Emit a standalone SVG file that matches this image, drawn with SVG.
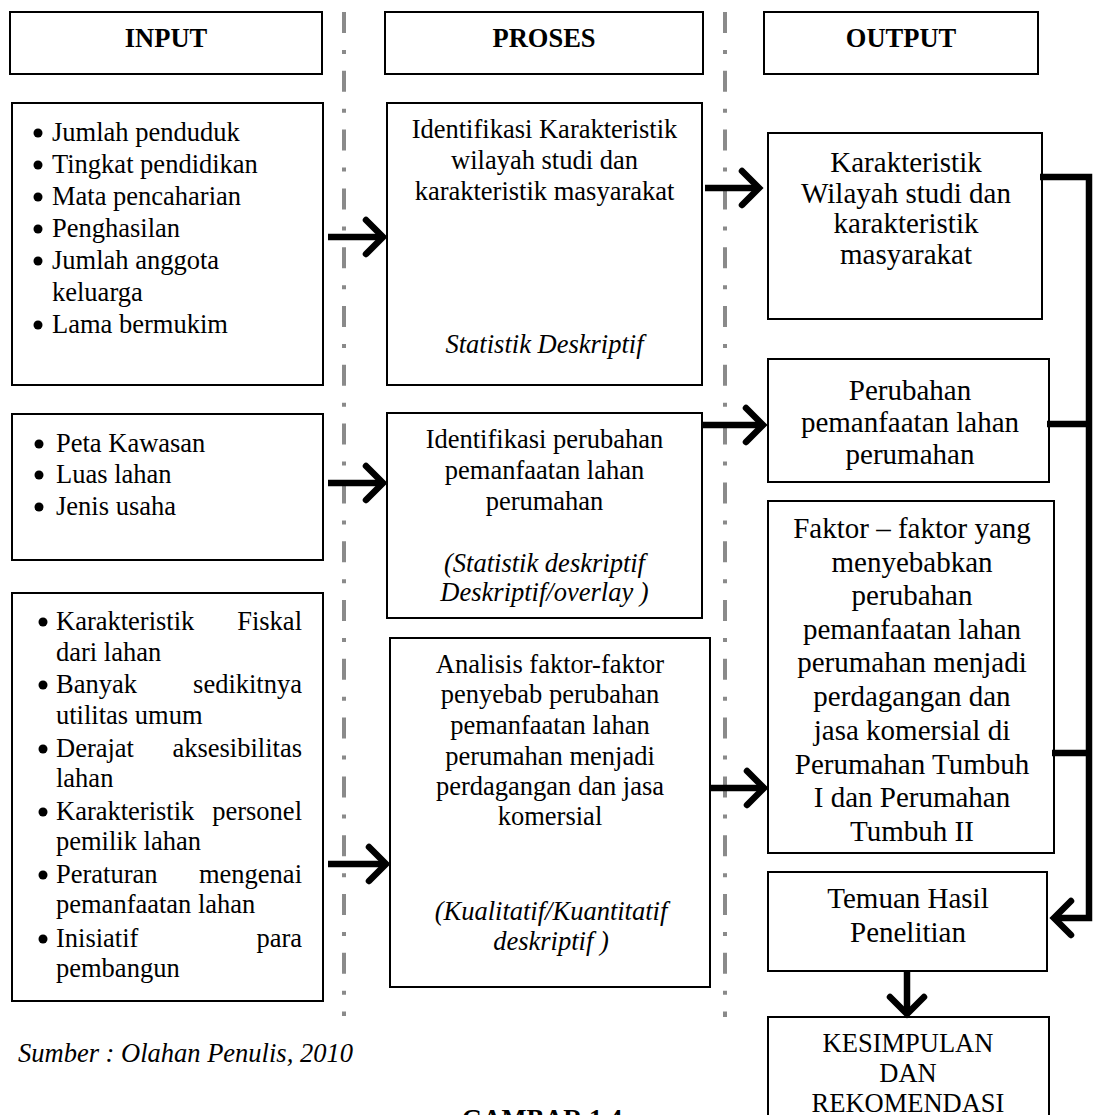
<svg xmlns="http://www.w3.org/2000/svg" width="1093" height="1115" viewBox="0 0 1093 1115">
<style>
.t{font-family:"Liberation Serif","Times New Roman",serif;font-size:26.5px;fill:#000}
.c{text-anchor:middle}
.e{text-anchor:end}
.i{font-style:italic}
.b{font-weight:bold}
.o{font-size:29px}
.box{fill:#fff;stroke:#000;stroke-width:2}
.div{stroke:#8a8a8a;stroke-width:4;stroke-dasharray:21 17 4 16.8;fill:none}
.conn{stroke:#000;stroke-width:6.5;fill:none;stroke-linejoin:miter}
.arr{marker-end:url(#chev)}
</style>
<defs>
<marker id="chev" markerUnits="userSpaceOnUse" markerWidth="60" markerHeight="60" viewBox="-30 -30 60 60" refX="0" refY="0" orient="auto" overflow="visible">
<path d="M-17,-17 L0,0 L-17,17" fill="none" stroke="#000" stroke-width="6.5" stroke-linecap="round" stroke-linejoin="miter"/>
</marker>
</defs>
<rect width="1093" height="1115" fill="#fff"/>
<g id="dividers">
<line class="div" x1="344" y1="12" x2="344" y2="1016"/>
<line class="div" x1="725" y1="12" x2="725" y2="1017"/>
</g>
<g id="hdr-input"><rect class="box" x="10" y="12" width="312" height="62"/><text class="t b c" x="166" y="47">INPUT</text></g>
<g id="hdr-proses"><rect class="box" x="385" y="12" width="318" height="62"/><text class="t b c" x="544" y="47">PROSES</text></g>
<g id="hdr-output"><rect class="box" x="764" y="12" width="274" height="62"/><text class="t b c" x="901" y="47">OUTPUT</text></g>

<g id="input1">
<rect class="box" x="12" y="103" width="311" height="282"/>
<circle cx="38" cy="133" r="4.5"/><text class="t" x="52" y="141">Jumlah penduduk</text>
<circle cx="38" cy="165" r="4.5"/><text class="t" x="52" y="173">Tingkat pendidikan</text>
<circle cx="38" cy="197" r="4.5"/><text class="t" x="52" y="205">Mata pencaharian</text>
<circle cx="38" cy="229" r="4.5"/><text class="t" x="52" y="237">Penghasilan</text>
<circle cx="38" cy="261" r="4.5"/><text class="t" x="52" y="269">Jumlah anggota</text>
<text class="t" x="52" y="301">keluarga</text>
<circle cx="38" cy="325" r="4.5"/><text class="t" x="52" y="333">Lama bermukim</text>
</g>

<g id="input2">
<rect class="box" x="12" y="414" width="311" height="146"/>
<circle cx="39" cy="444" r="4.5"/><text class="t" x="56" y="452">Peta Kawasan</text>
<circle cx="39" cy="475" r="4.5"/><text class="t" x="56" y="483">Luas lahan</text>
<circle cx="39" cy="507" r="4.5"/><text class="t" x="56" y="515">Jenis usaha</text>
</g>

<g id="input3">
<rect class="box" x="12" y="593" width="311" height="408"/>
<circle cx="43" cy="622" r="4.5"/><text class="t" x="56" y="630">Karakteristik</text><text class="t e" x="302" y="630">Fiskal</text>
<text class="t" x="56" y="661">dari lahan</text>
<circle cx="43" cy="685" r="4.5"/><text class="t" x="56" y="693">Banyak</text><text class="t e" x="302" y="693">sedikitnya</text>
<text class="t" x="56" y="724">utilitas umum</text>
<circle cx="43" cy="749" r="4.5"/><text class="t" x="56" y="757">Derajat</text><text class="t e" x="302" y="757">aksesibilitas</text>
<text class="t" x="56" y="787">lahan</text>
<circle cx="43" cy="812" r="4.5"/><text class="t" x="56" y="820">Karakteristik</text><text class="t e" x="302" y="820">personel</text>
<text class="t" x="56" y="850">pemilik lahan</text>
<circle cx="43" cy="875" r="4.5"/><text class="t" x="56" y="883">Peraturan</text><text class="t e" x="302" y="883">mengenai</text>
<text class="t" x="56" y="913">pemanfaatan lahan</text>
<circle cx="43" cy="939" r="4.5"/><text class="t" x="56" y="947">Inisiatif</text><text class="t e" x="302" y="947">para</text>
<text class="t" x="56" y="977">pembangun</text>
</g>

<g id="proses1">
<rect class="box" x="387" y="103" width="315" height="282"/>
<text class="t c" x="544.5" y="138">Identifikasi Karakteristik</text>
<text class="t c" x="544.5" y="169">wilayah studi dan</text>
<text class="t c" x="544.5" y="200">karakteristik masyarakat</text>
<text class="t c i" x="544.5" y="353">Statistik Deskriptif</text>
</g>

<g id="proses2">
<rect class="box" x="387" y="413" width="315" height="205"/>
<text class="t c" x="544.5" y="448">Identifikasi perubahan</text>
<text class="t c" x="544.5" y="479">pemanfaatan lahan</text>
<text class="t c" x="544.5" y="510">perumahan</text>
<text class="t c i" x="544.5" y="572">(Statistik deskriptif</text>
<text class="t c i" x="544.5" y="601">Deskriptif/overlay )</text>
</g>

<g id="proses3">
<rect class="box" x="390" y="638" width="320" height="349"/>
<text class="t c" x="550" y="673">Analisis faktor-faktor</text>
<text class="t c" x="550" y="703">penyebab perubahan</text>
<text class="t c" x="550" y="734">pemanfaatan lahan</text>
<text class="t c" x="550" y="765">perumahan menjadi</text>
<text class="t c" x="550" y="795">perdagangan dan jasa</text>
<text class="t c" x="550" y="825">komersial</text>
<text class="t c i" x="551" y="920">(Kualitatif/Kuantitatif</text>
<text class="t c i" x="551" y="950">deskriptif )</text>
</g>

<g id="output1">
<rect class="box" x="768" y="133" width="274" height="186"/>
<text class="t o c" x="906" y="172">Karakteristik</text>
<text class="t o c" x="906" y="203">Wilayah studi dan</text>
<text class="t o c" x="906" y="233">karakteristik</text>
<text class="t o c" x="906" y="264">masyarakat</text>
</g>

<g id="output2">
<rect class="box" x="768" y="359" width="281" height="123"/>
<text class="t o c" x="910" y="400">Perubahan</text>
<text class="t o c" x="910" y="432">pemanfaatan lahan</text>
<text class="t o c" x="910" y="464">perumahan</text>
</g>

<g id="output3">
<rect class="box" x="768" y="501" width="286" height="352"/>
<text class="t o c" x="912" y="538">Faktor – faktor yang</text>
<text class="t o c" x="912" y="572">menyebabkan</text>
<text class="t o c" x="912" y="605">perubahan</text>
<text class="t o c" x="912" y="639">pemanfaatan lahan</text>
<text class="t o c" x="912" y="672">perumahan menjadi</text>
<text class="t o c" x="912" y="706">perdagangan dan</text>
<text class="t o c" x="912" y="740">jasa komersial di</text>
<text class="t o c" x="912" y="774">Perumahan Tumbuh</text>
<text class="t o c" x="912" y="807">I dan Perumahan</text>
<text class="t o c" x="912" y="841">Tumbuh II</text>
</g>

<g id="output4">
<rect class="box" x="768" y="872" width="279" height="99"/>
<text class="t o c" x="908" y="908">Temuan Hasil</text>
<text class="t o c" x="908" y="942">Penelitian</text>
</g>

<g id="output5">
<rect class="box" x="768" y="1017" width="281" height="130"/>
<text class="t c" x="908" y="1052">KESIMPULAN</text>
<text class="t c" x="908" y="1082">DAN</text>
<text class="t c" x="908" y="1112">REKOMENDASI</text>
</g>

<g id="connectors">
<path class="conn arr" d="M328,237 H383"/>
<path class="conn arr" d="M328,483 H383"/>
<path class="conn arr" d="M328,864 H386"/>
<path class="conn arr" d="M705,188 H759"/>
<path class="conn arr" d="M703,425 H763"/>
<path class="conn arr" d="M710,788 H764"/>
<path class="conn" d="M1047,424 H1088"/>
<path class="conn" d="M1052,753 H1088"/>
<path class="conn arr" d="M1040,177 H1089 V918 H1054"/>
<path class="conn arr" d="M907,972 V1014"/>
</g>

<g id="captions">
<text class="t i" x="18" y="1062">Sumber : Olahan Penulis, 2010</text>
<text class="t b c" x="542" y="1128">GAMBAR 1.4</text>
</g>
</svg>
